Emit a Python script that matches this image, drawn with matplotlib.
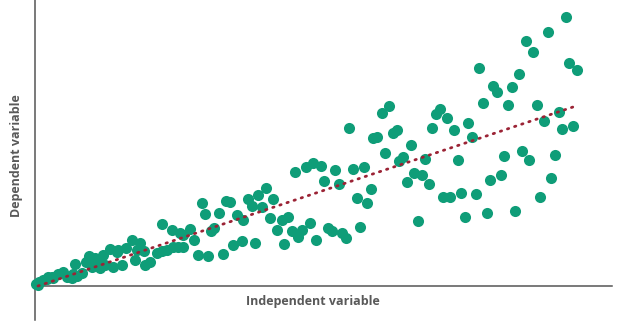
import matplotlib
matplotlib.use("Agg")
import matplotlib.pyplot as plt

# values (arbitrary units, origin at the axes corner)
x_vals = [1, 3, 4, 8, 12, 13, 17, 18, 23, 28, 32, 37, 38, 40, 42, 47, 51, 54, 57, 60,
          65, 65, 68, 70, 75, 78, 82, 83, 87, 91, 97, 102, 100, 105, 109, 110, 115, 122, 127, 127,
          132, 137, 138, 143, 145, 148, 148, 155, 159, 163, 167, 170, 173, 176, 179, 184, 188, 191, 195, 198,
          202, 207, 208, 213, 217, 220, 223, 227, 231, 235, 238, 242, 247, 249, 253, 257, 260, 263, 267, 271,
          275, 278, 281, 286, 289, 293, 297, 300, 304, 307, 311, 314, 318, 322, 325, 329, 332, 336, 338, 342,
          347, 350, 354, 358, 362, 364, 368, 372, 376, 379, 383, 387, 390, 394, 397, 401, 405, 408, 412, 415,
          419, 423, 426, 430, 433, 437, 441, 444, 448, 452, 455, 458, 462, 466, 469, 473, 477, 480, 484, 487,
          491, 494, 498, 502, 505, 509, 513, 516, 520, 524, 527, 531, 534, 538, 542]
y_vals = [2, 1, 4, 6, 7, 9, 9, 8, 12, 14, 9, 8, 12, 22, 10, 13, 24, 30, 19, 28,
          22, 18, 31, 21, 37, 19, 34, 36, 21, 38, 46, 36, 26, 43, 35, 21, 24, 33, 35, 62,
          36, 56, 39, 39, 53, 51, 39, 57, 46, 31, 83, 72, 30, 55, 58, 73, 32, 85, 84, 41,
          71, 45, 66, 87, 80, 43, 91, 79, 98, 68, 87, 56, 66, 42, 69, 55, 114, 49, 56, 119,
          63, 123, 46, 120, 105, 58, 55, 116, 102, 53, 48, 158, 117, 88, 59, 119, 83, 97, 148, 149,
          173, 133, 180, 153, 156, 125, 129, 104, 141, 113, 65, 111, 127, 102, 158, 172, 177, 89, 168, 89,
          156, 126, 93, 69, 163, 149, 92, 218, 183, 73, 106, 200, 194, 111, 130, 181, 199, 75, 212, 135,
          245, 126, 234, 181, 89, 165, 254, 108, 131, 174, 157, 269, 223, 160, 216]

trend_x = [3, 541]
trend_y = [0, 180]

GREEN = '#0f9d78'
RED = '#9b2335'
GREY = '#555555'

fig = plt.figure(figsize=(6.26, 3.27), dpi=100)
ax = fig.add_axes([35 / 626, 7 / 327, 577 / 626, 320 / 327])
ax.set_xlim(0, 577)
ax.set_ylim(-34, 286)

ax.scatter(x_vals, y_vals, s=64, color=GREEN, linewidths=0, zorder=3, clip_on=False)
ax.plot(trend_x, trend_y, color=RED, linewidth=2, linestyle=(0, (0.5, 2.2)),
        dash_capstyle='round', zorder=4)

# only the two axis lines, no ticks
for side in ['top', 'right']:
    ax.spines[side].set_visible(False)
ax.spines['bottom'].set_position(('data', 0))
for side in ['left', 'bottom']:
    ax.spines[side].set_color(GREY)
    ax.spines[side].set_linewidth(1.1)
ax.set_xticks([])
ax.set_yticks([])

fig.text(313 / 626, 1 - 302 / 327, 'Independent variable', ha='center', va='center',
         fontsize=9, fontweight='bold', color='#595959', family='Open Sans')
fig.text(17 / 626, 1 - 156 / 327, 'Dependent variable', ha='center', va='center',
         rotation=90, fontsize=9, fontweight='bold', color='#595959', family='Open Sans')

plt.savefig('out.png', dpi=100)
